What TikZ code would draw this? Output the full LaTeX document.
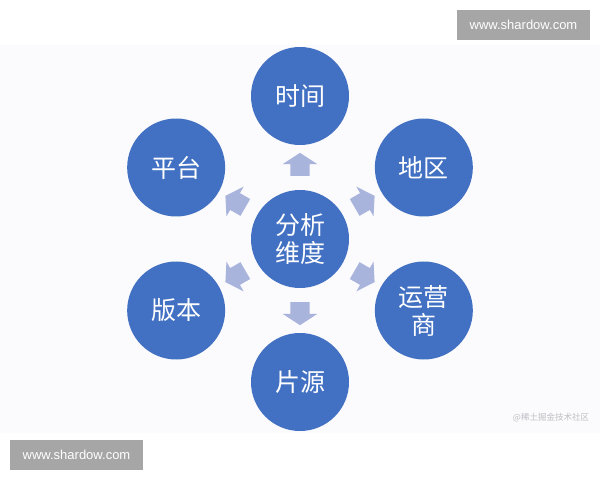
\documentclass[tikz,border=0pt]{standalone}
\usepackage{fontspec}
\usepackage{xcolor}
\newfontfamily\cjk{Noto Sans CJK SC}
\newfontfamily\web{Liberation Sans}
\usetikzlibrary{shapes.arrows,calc}
\definecolor{dimension}{RGB}{66,112,194}
\definecolor{pointer}{RGB}{169,180,220}
\definecolor{watermark}{RGB}{166,166,166}
\definecolor{backdrop}{RGB}{251,250,253}
\definecolor{credit}{RGB}{190,190,196}

\begin{document}
\begin{tikzpicture}[x=1pt,y=1pt,
            dim/.style = {circle, fill=dimension, minimum size=98pt, inner sep=0pt,
                text=white, align=center, font=\cjk\fontsize{25}{28}\selectfont},
            pointer/.style = {single arrow, fill=pointer, draw=none,
                minimum height=23pt, inner xsep=0pt, inner ysep=9.5pt,
                single arrow head extend=7.5pt, single arrow tip angle=114},
            wmark/.style = {fill=watermark, text=white, minimum width=133pt,
                minimum height=30pt, inner sep=0pt, font=\web\fontsize{13}{15}\selectfont}
            ]
            \useasboundingbox (0,0) rectangle (600,480);
            \fill[backdrop] (0,47) rectangle (600,435);

            \node[dim] (centre) at (300,241) {分析\\维度};
            \foreach \ang/\name/\txt in {90/time/{时间}, 30/region/{地区},
                    -30/carrier/{运营\\商}, -90/source/{片源},
                    210/version/{版本}, 150/platform/{平台}}
            {
                \node[dim] (\name) at ([shift={(\ang:143)}]centre) {\txt};
                \node[pointer, rotate=\ang] (to-\name) at ($(centre)!0.5!(\name)$) {};
            }

            \node[wmark] (mark-top) at (523.5,455) {www.shardow.com};
            \node[wmark] (mark-bottom) at (76.5,25) {www.shardow.com};
            \node[text=credit, font=\cjk\fontsize{8.5}{10}\selectfont] (juejin) at (551,62) {@稀土掘金技术社区};
        \end{tikzpicture}
\end{document}
